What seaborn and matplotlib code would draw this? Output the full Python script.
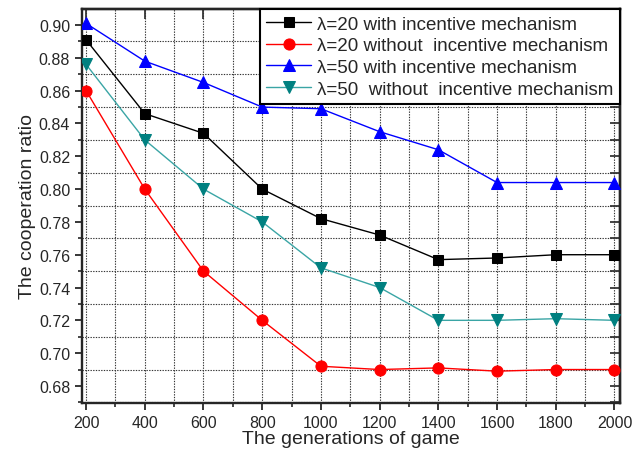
import numpy as np
import pandas as pd
import matplotlib
matplotlib.use("Agg")
import matplotlib.pyplot as plt
import seaborn as sns
from matplotlib.ticker import MultipleLocator, NullFormatter, FormatStrFormatter

generations = [200, 400, 600, 800, 1000, 1200, 1400, 1600, 1800, 2000]
l20_with = [0.891, 0.846, 0.834, 0.800, 0.782, 0.772, 0.757, 0.758, 0.760, 0.760]
l20_without = [0.860, 0.800, 0.750, 0.720, 0.692, 0.690, 0.691, 0.689, 0.690, 0.690]
l50_with = [0.901, 0.878, 0.865, 0.850, 0.849, 0.835, 0.824, 0.804, 0.804, 0.804]
l50_without = [0.876, 0.830, 0.800, 0.780, 0.752, 0.740, 0.720, 0.720, 0.721, 0.720]

labels = ["\u03bb=20 with incentive mechanism",
          "\u03bb=20 without  incentive mechanism",
          "\u03bb=50 with incentive mechanism",
          "\u03bb=50  without  incentive mechanism"]

sns.set_style("ticks")
plt.rcParams['font.family'] = ['Liberation Sans', 'DejaVu Sans']

fig = plt.figure(figsize=(6.33, 4.52), dpi=100)
ax = fig.add_axes([0.1295, 0.1062, 0.85, 0.8717])

# line colour, marker colour, marker, size
styles = [("black", "black", "s", 7.5),
          ("red", "red", "o", 8),
          ("blue", "blue", "^", 9),
          ("#3aa5a5", "#008080", "v", 9)]

for vals, lab, (lc, mc, mk, ms) in zip([l20_with, l20_without, l50_with, l50_without], labels, styles):
    df = pd.DataFrame({"gen": generations, "ratio": vals})
    sns.lineplot(data=df, x="gen", y="ratio", ax=ax, color=lc, lw=1, marker=mk,
                 markersize=ms, markerfacecolor=mc, markeredgecolor=mc,
                 label=lab, zorder=3)

ax.set_xlim(186, 2019)
ax.set_ylim(0.6696, 0.9098)
ax.xaxis.set_major_locator(MultipleLocator(200))
ax.xaxis.set_minor_locator(MultipleLocator(100))
ax.yaxis.set_major_locator(MultipleLocator(0.02))
ax.yaxis.set_minor_locator(MultipleLocator(0.01))
ax.yaxis.set_major_formatter(FormatStrFormatter('%.2f'))

ax.xaxis.grid(True, which='both', linestyle=(0, (1.2, 1.2)), color='#333333', lw=0.8)
ax.yaxis.grid(True, which='minor', linestyle=(0, (1.2, 1.2)), color='#333333', lw=0.8)
ax.yaxis.grid(False, which='major')
ax.set_axisbelow(True)

for s in ax.spines.values():
    s.set_linewidth(1.7)
    s.set_visible(True)
ax.tick_params(which='major', direction='out', length=5, width=1.3, labelsize=11.5,
               top=False, right=False)
ax.tick_params(which='minor', direction='out', length=3, width=1.2, top=False, right=False)

# inward ticks on the right and top, like the original
sec_y = ax.secondary_yaxis('right')
sec_y.yaxis.set_major_locator(MultipleLocator(0.01))
sec_y.yaxis.set_major_formatter(NullFormatter())
sec_y.tick_params(direction='in', length=7, width=1.2)
sec_y.spines['right'].set_linewidth(1.7)

sec_x = ax.secondary_xaxis('top')
sec_x.xaxis.set_major_locator(MultipleLocator(200))
sec_x.xaxis.set_major_formatter(NullFormatter())
sec_x.tick_params(direction='in', length=7, width=1.2)
sec_x.spines['top'].set_linewidth(1.7)

ax.set_xlabel("The generations of game", fontsize=14, labelpad=0)
ax.set_ylabel("The cooperation ratio", fontsize=14, labelpad=2)

leg = ax.legend(loc='upper right', fontsize=13.5, frameon=True, fancybox=False,
                borderaxespad=0, handlelength=2.4, labelspacing=0.24,
                borderpad=0.35, handletextpad=0.3)
leg.get_frame().set_edgecolor('black')
leg.get_frame().set_linewidth(1.5)
leg.get_frame().set_alpha(1)
leg.set_zorder(5)

fig.savefig("out.png", dpi=100)
